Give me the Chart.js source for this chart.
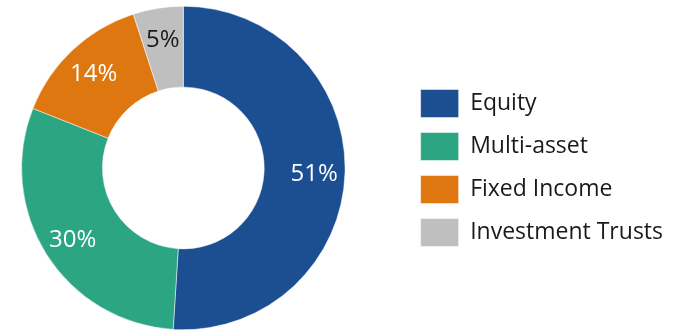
<!DOCTYPE html>
<html>
<head>
<meta charset="utf-8">
<script src="https://cdn.jsdelivr.net/npm/chart.js@4/dist/chart.umd.min.js"></script>
<style>
  html, body { margin: 0; padding: 0; background: #fff; }
  #frame { width: 684px; height: 330px; overflow: hidden; position: relative; }
  /* canvas is wider than the frame so the ring sits left of the area's centre */
  #wrap { position: absolute; left: -39px; top: 0; width: 723px; height: 330px; }
</style>
</head>
<body>
<div id="frame"><div id="wrap"><canvas id="allocChart"></canvas></div></div>
<script>
const categories = ["Equity", "Multi-asset", "Fixed Income", "Investment Trusts"];
const shares = [51, 30, 14, 5];
const sliceColors = ["#1B4F91", "#2BA582", "#DF7710", "#BFBFBF"];
const labelColors = ["#FFFFFF", "#FFFFFF", "#FFFFFF", "#1A1A1A"];

// percentage labels sit inside each ring segment
const sliceLabels = {
  id: "sliceLabels",
  afterDatasetsDraw(chart) {
    const ctx = chart.ctx;
    const meta = chart.getDatasetMeta(0);
    ctx.save();
    ctx.font = "24px 'Open Sans'";
    ctx.textAlign = "center";
    ctx.textBaseline = "middle";
    meta.data.forEach((arc, i) => {
      const p = arc.getProps(["x", "y", "startAngle", "endAngle", "innerRadius", "outerRadius"], true);
      const mid = (p.startAngle + p.endAngle) / 2;
      const r = p.innerRadius + (p.outerRadius - p.innerRadius) * 0.62;
      ctx.fillStyle = labelColors[i];
      ctx.fillText(shares[i] + "%", p.x + Math.cos(mid) * r, p.y + Math.sin(mid) * r + 2);
    });
    ctx.restore();
  }
};

new Chart(document.getElementById("allocChart"), {
  type: "doughnut",
  data: {
    labels: categories,
    datasets: [{
      data: shares,
      backgroundColor: sliceColors,
      borderColor: "#FFFFFF",
      borderWidth: 0.5
    }]
  },
  options: {
    responsive: true,
    maintainAspectRatio: false,
    animation: false,
    cutout: "50%",
    layout: {
      padding: { left: 0, right: 11, top: 6, bottom: 0 }
    },
    plugins: {
      tooltip: { enabled: false },
      legend: {
        position: "right",
        labels: {
          boxWidth: 38,
          boxHeight: 28,
          padding: 15,
          color: "#1A1A1A",
          font: { family: "'Open Sans'", size: 23 }
        }
      }
    }
  },
  plugins: [sliceLabels]
});
</script>
</body>
</html>
